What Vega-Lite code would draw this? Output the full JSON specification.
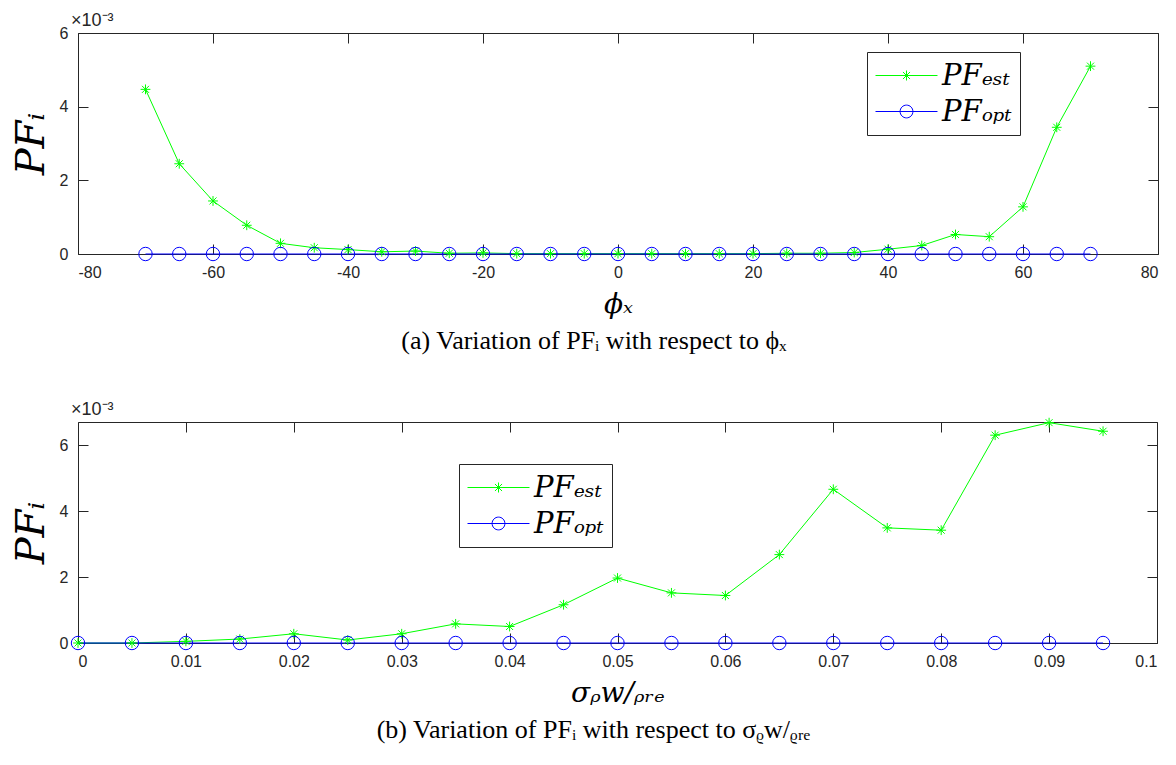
{
  "$schema": "https://vega.github.io/schema/vega-lite/v6.json",
  "background": "white",
  "padding": {"left": 10, "top": 11, "right": 6, "bottom": 5},
  "datasets": {
    "a": [
      {"phi": -70, "series": "PFₑₛₜ", "PF": 0.00447},
      {"phi": -65, "series": "PFₑₛₜ", "PF": 0.00245},
      {"phi": -60, "series": "PFₑₛₜ", "PF": 0.00144},
      {"phi": -55, "series": "PFₑₛₜ", "PF": 0.00078},
      {"phi": -50, "series": "PFₑₛₜ", "PF": 0.00029},
      {"phi": -45, "series": "PFₑₛₜ", "PF": 0.00017},
      {"phi": -40, "series": "PFₑₛₜ", "PF": 0.00012},
      {"phi": -35, "series": "PFₑₛₜ", "PF": 0.00006},
      {"phi": -30, "series": "PFₑₛₜ", "PF": 0.00008},
      {"phi": -25, "series": "PFₑₛₜ", "PF": 0.00002},
      {"phi": -20, "series": "PFₑₛₜ", "PF": 0.00003},
      {"phi": -15, "series": "PFₑₛₜ", "PF": 0.00001},
      {"phi": -10, "series": "PFₑₛₜ", "PF": 0.00001},
      {"phi": -5, "series": "PFₑₛₜ", "PF": 0.00001},
      {"phi": 0, "series": "PFₑₛₜ", "PF": 0.00001},
      {"phi": 5, "series": "PFₑₛₜ", "PF": 0.00001},
      {"phi": 10, "series": "PFₑₛₜ", "PF": 0.00001},
      {"phi": 15, "series": "PFₑₛₜ", "PF": 0.00001},
      {"phi": 20, "series": "PFₑₛₜ", "PF": 0.00001},
      {"phi": 25, "series": "PFₑₛₜ", "PF": 0.00002},
      {"phi": 30, "series": "PFₑₛₜ", "PF": 0.00002},
      {"phi": 35, "series": "PFₑₛₜ", "PF": 0.00004},
      {"phi": 40, "series": "PFₑₛₜ", "PF": 0.00013},
      {"phi": 45, "series": "PFₑₛₜ", "PF": 0.00023},
      {"phi": 50, "series": "PFₑₛₜ", "PF": 0.00053},
      {"phi": 55, "series": "PFₑₛₜ", "PF": 0.00047},
      {"phi": 60, "series": "PFₑₛₜ", "PF": 0.00128},
      {"phi": 65, "series": "PFₑₛₜ", "PF": 0.00344},
      {"phi": 70, "series": "PFₑₛₜ", "PF": 0.0051},
      {"phi": -70, "series": "PFₒₚₜ", "PF": 0},
      {"phi": -65, "series": "PFₒₚₜ", "PF": 0},
      {"phi": -60, "series": "PFₒₚₜ", "PF": 0},
      {"phi": -55, "series": "PFₒₚₜ", "PF": 0},
      {"phi": -50, "series": "PFₒₚₜ", "PF": 0},
      {"phi": -45, "series": "PFₒₚₜ", "PF": 0},
      {"phi": -40, "series": "PFₒₚₜ", "PF": 0},
      {"phi": -35, "series": "PFₒₚₜ", "PF": 0},
      {"phi": -30, "series": "PFₒₚₜ", "PF": 0},
      {"phi": -25, "series": "PFₒₚₜ", "PF": 0},
      {"phi": -20, "series": "PFₒₚₜ", "PF": 0},
      {"phi": -15, "series": "PFₒₚₜ", "PF": 0},
      {"phi": -10, "series": "PFₒₚₜ", "PF": 0},
      {"phi": -5, "series": "PFₒₚₜ", "PF": 0},
      {"phi": 0, "series": "PFₒₚₜ", "PF": 0},
      {"phi": 5, "series": "PFₒₚₜ", "PF": 0},
      {"phi": 10, "series": "PFₒₚₜ", "PF": 0},
      {"phi": 15, "series": "PFₒₚₜ", "PF": 0},
      {"phi": 20, "series": "PFₒₚₜ", "PF": 0},
      {"phi": 25, "series": "PFₒₚₜ", "PF": 0},
      {"phi": 30, "series": "PFₒₚₜ", "PF": 0},
      {"phi": 35, "series": "PFₒₚₜ", "PF": 0},
      {"phi": 40, "series": "PFₒₚₜ", "PF": 0},
      {"phi": 45, "series": "PFₒₚₜ", "PF": 0},
      {"phi": 50, "series": "PFₒₚₜ", "PF": 0},
      {"phi": 55, "series": "PFₒₚₜ", "PF": 0},
      {"phi": 60, "series": "PFₒₚₜ", "PF": 0},
      {"phi": 65, "series": "PFₒₚₜ", "PF": 0},
      {"phi": 70, "series": "PFₒₚₜ", "PF": 0}
    ],
    "b": [
      {"sigma": 0, "series": "PFₑₛₜ", "PF": 0},
      {"sigma": 0.005, "series": "PFₑₛₜ", "PF": 0},
      {"sigma": 0.01, "series": "PFₑₛₜ", "PF": 0.00005},
      {"sigma": 0.015, "series": "PFₑₛₜ", "PF": 0.00012},
      {"sigma": 0.02, "series": "PFₑₛₜ", "PF": 0.00028},
      {"sigma": 0.025, "series": "PFₑₛₜ", "PF": 0.00009},
      {"sigma": 0.03, "series": "PFₑₛₜ", "PF": 0.00028},
      {"sigma": 0.035, "series": "PFₑₛₜ", "PF": 0.00058},
      {"sigma": 0.04, "series": "PFₑₛₜ", "PF": 0.0005},
      {"sigma": 0.045, "series": "PFₑₛₜ", "PF": 0.00116},
      {"sigma": 0.05, "series": "PFₑₛₜ", "PF": 0.00197},
      {"sigma": 0.055, "series": "PFₑₛₜ", "PF": 0.00152},
      {"sigma": 0.06, "series": "PFₑₛₜ", "PF": 0.00144},
      {"sigma": 0.065, "series": "PFₑₛₜ", "PF": 0.00268},
      {"sigma": 0.07, "series": "PFₑₛₜ", "PF": 0.00466},
      {"sigma": 0.075, "series": "PFₑₛₜ", "PF": 0.00349},
      {"sigma": 0.08, "series": "PFₑₛₜ", "PF": 0.00342},
      {"sigma": 0.085, "series": "PFₑₛₜ", "PF": 0.0063},
      {"sigma": 0.09, "series": "PFₑₛₜ", "PF": 0.00668},
      {"sigma": 0.095, "series": "PFₑₛₜ", "PF": 0.00642},
      {"sigma": 0, "series": "PFₒₚₜ", "PF": 0},
      {"sigma": 0.005, "series": "PFₒₚₜ", "PF": 0},
      {"sigma": 0.01, "series": "PFₒₚₜ", "PF": 0},
      {"sigma": 0.015, "series": "PFₒₚₜ", "PF": 0},
      {"sigma": 0.02, "series": "PFₒₚₜ", "PF": 0},
      {"sigma": 0.025, "series": "PFₒₚₜ", "PF": 0},
      {"sigma": 0.03, "series": "PFₒₚₜ", "PF": 0},
      {"sigma": 0.035, "series": "PFₒₚₜ", "PF": 0},
      {"sigma": 0.04, "series": "PFₒₚₜ", "PF": 0},
      {"sigma": 0.045, "series": "PFₒₚₜ", "PF": 0},
      {"sigma": 0.05, "series": "PFₒₚₜ", "PF": 0},
      {"sigma": 0.055, "series": "PFₒₚₜ", "PF": 0},
      {"sigma": 0.06, "series": "PFₒₚₜ", "PF": 0},
      {"sigma": 0.065, "series": "PFₒₚₜ", "PF": 0},
      {"sigma": 0.07, "series": "PFₒₚₜ", "PF": 0},
      {"sigma": 0.075, "series": "PFₒₚₜ", "PF": 0},
      {"sigma": 0.08, "series": "PFₒₚₜ", "PF": 0},
      {"sigma": 0.085, "series": "PFₒₚₜ", "PF": 0},
      {"sigma": 0.09, "series": "PFₒₚₜ", "PF": 0},
      {"sigma": 0.095, "series": "PFₒₚₜ", "PF": 0}
    ],
    "unitA": [{"x": -80, "y": 0.006, "t": "×10⁻³"}],
    "unitB": [{"x": 0, "y": 0.0067, "t": "×10⁻³"}]
  },
  "config": {
    "view": {"stroke": "#262626", "strokeWidth": 1},
    "axis": {
      "grid": false, "domain": false,
      "tickColor": "#262626", "tickSize": -10, "tickWidth": 1,
      "labelPadding": 20, "labelFont": "Liberation Sans", "labelFontSize": 16, "labelColor": "#262626",
      "titleFont": "DejaVu Serif", "titleFontStyle": "italic", "titleFontWeight": "normal", "titleColor": "#000000"
    },
    "legend": {
      "title": null, "orient": "none", "strokeColor": "#262626", "fillColor": "white", "padding": 8,
      "labelFont": "DejaVu Serif", "labelFontStyle": "italic", "labelFontSize": 29, "labelColor": "#000000",
      "symbolSize": 900, "labelOffset": 36, "rowPadding": 5
    },
    "concat": {"spacing": 45}
  },
  "resolve": {"scale": {"color": "independent"}, "legend": {"color": "independent"}},
  "vconcat": [
    {
      "width": 1080, "height": 221,
      "title": {"text": "(a) Variation of PFᵢ with respect to ϕₓ", "orient": "bottom", "anchor": "middle", "offset": 10, "dx": -24, "font": "Liberation Serif", "fontSize": 26, "fontWeight": "normal", "color": "#000000"},
      "resolve": {"axis": {"x": "independent", "y": "independent"}},
      "layer": [
        {
          "data": {"name": "a"},
          "mark": {"type": "line", "strokeWidth": 1},
          "encoding": {
            "x": {"field": "phi", "type": "quantitative", "scale": {"domain": [-80, 80], "nice": false},
              "axis": {"values": [-80, -60, -40, -20, 0, 20, 40, 60, 80], "labelExpr": "datum.value < 0 ? '-' + abs(datum.value) : '' + datum.value", "title": "ϕₓ", "titleFontSize": 28, "titlePadding": 10}},
            "y": {"field": "PF", "type": "quantitative", "scale": {"domain": [0, 0.006], "nice": false},
              "axis": {"values": [0, 0.002, 0.004, 0.006], "labelExpr": "format(datum.value * 1000, '.0f')", "title": "PFᵢ", "titleFontSize": 40, "titlePadding": 8}},
            "color": {"field": "series", "type": "nominal", "scale": {"domain": ["PFₑₛₜ", "PFₒₚₜ"], "range": ["#00ff00", "#0000ff"]},
              "legend": {"legendX": 789, "legendY": 19,
                "encode": {"symbols": {"update": {
                  "shape": {"signal": "datum.value === 'PFₑₛₜ' ? 'M-1,0L3.133,0M0.733,0L1.4,0M1.067,-0.333L1.067,0.333M0.831,-0.236L1.303,0.236M0.831,0.236L1.303,-0.236' : 'M-1,0L3.133,0M0.64,0A0.427,0.427 0 1,0 1.494,0A0.427,0.427 0 1,0 0.64,0'"},
                  "fill": {"value": "transparent"}, "strokeWidth": {"value": 1}, "size": {"value": 900}}}}}}
          }
        },
        {
          "data": {"name": "a"},
          "transform": [{"filter": "datum.series === 'PFₑₛₜ'"}],
          "mark": {"type": "point", "filled": false, "strokeWidth": 1, "size": 196, "opacity": 1, "color": "#00ff00", "shape": "M-0.7,0L0.7,0M0,-0.7L0,0.7M-0.5,-0.5L0.5,0.5M-0.5,0.5L0.5,-0.5"},
          "encoding": {
            "x": {"field": "phi", "type": "quantitative", "scale": {"domain": [-80, 80], "nice": false},
              "axis": {"orient": "top", "values": [-80, -60, -40, -20, 0, 20, 40, 60, 80], "labels": false, "title": null}},
            "y": {"field": "PF", "type": "quantitative", "scale": {"domain": [0, 0.006], "nice": false},
              "axis": {"orient": "right", "values": [0, 0.002, 0.004, 0.006], "labels": false, "title": null}}
          }
        },
        {
          "data": {"name": "a"},
          "transform": [{"filter": "datum.series === 'PFₒₚₜ'"}],
          "mark": {"type": "point", "filled": false, "strokeWidth": 1, "size": 180, "opacity": 1, "color": "#0000ff", "shape": "circle"},
          "encoding": {
            "x": {"field": "phi", "type": "quantitative", "scale": {"domain": [-80, 80], "nice": false}, "axis": null},
            "y": {"field": "PF", "type": "quantitative", "scale": {"domain": [0, 0.006], "nice": false}, "axis": null}
          }
        },
        {
          "data": {"name": "unitA"},
          "mark": {"type": "text", "align": "left", "baseline": "bottom", "dx": -7, "dy": -3, "font": "Liberation Sans", "fontSize": 18, "color": "#262626"},
          "encoding": {
            "x": {"field": "x", "type": "quantitative", "scale": {"domain": [-80, 80], "nice": false}, "axis": null},
            "y": {"field": "y", "type": "quantitative", "scale": {"domain": [0, 0.006], "nice": false}, "axis": null},
            "text": {"field": "t"}
          }
        }
      ]
    },
    {
      "width": 1079, "height": 221,
      "title": {"text": "(b) Variation of PFᵢ with respect to σᵨw/ᵨᵣₑ", "orient": "bottom", "anchor": "middle", "offset": 10, "dx": -24, "font": "Liberation Serif", "fontSize": 26, "fontWeight": "normal", "color": "#000000"},
      "resolve": {"axis": {"x": "independent", "y": "independent"}},
      "layer": [
        {
          "data": {"name": "b"},
          "mark": {"type": "line", "strokeWidth": 1},
          "encoding": {
            "x": {"field": "sigma", "type": "quantitative", "scale": {"domain": [0, 0.1], "nice": false},
              "axis": {"values": [0, 0.01, 0.02, 0.03, 0.04, 0.05, 0.06, 0.07, 0.08, 0.09, 0.1], "labelExpr": "format(datum.value, '~g')", "title": "σᵨw/ᵨᵣₑ", "titleFontSize": 28, "titlePadding": 10}},
            "y": {"field": "PF", "type": "quantitative", "scale": {"domain": [0, 0.0067], "nice": false},
              "axis": {"values": [0, 0.002, 0.004, 0.006], "labelExpr": "format(datum.value * 1000, '.0f')", "title": "PFᵢ", "titleFontSize": 40, "titlePadding": 8}},
            "color": {"field": "series", "type": "nominal", "scale": {"domain": ["PFₑₛₜ", "PFₒₚₜ"], "range": ["#00ff00", "#0000ff"]},
              "legend": {"legendX": 381, "legendY": 42,
                "encode": {"symbols": {"update": {
                  "shape": {"signal": "datum.value === 'PFₑₛₜ' ? 'M-1,0L3.133,0M0.733,0L1.4,0M1.067,-0.333L1.067,0.333M0.831,-0.236L1.303,0.236M0.831,0.236L1.303,-0.236' : 'M-1,0L3.133,0M0.64,0A0.427,0.427 0 1,0 1.494,0A0.427,0.427 0 1,0 0.64,0'"},
                  "fill": {"value": "transparent"}, "strokeWidth": {"value": 1}, "size": {"value": 900}}}}}}
          }
        },
        {
          "data": {"name": "b"},
          "transform": [{"filter": "datum.series === 'PFₑₛₜ'"}],
          "mark": {"type": "point", "filled": false, "strokeWidth": 1, "size": 196, "opacity": 1, "color": "#00ff00", "shape": "M-0.7,0L0.7,0M0,-0.7L0,0.7M-0.5,-0.5L0.5,0.5M-0.5,0.5L0.5,-0.5"},
          "encoding": {
            "x": {"field": "sigma", "type": "quantitative", "scale": {"domain": [0, 0.1], "nice": false},
              "axis": {"orient": "top", "values": [0, 0.01, 0.02, 0.03, 0.04, 0.05, 0.06, 0.07, 0.08, 0.09, 0.1], "labels": false, "title": null}},
            "y": {"field": "PF", "type": "quantitative", "scale": {"domain": [0, 0.0067], "nice": false},
              "axis": {"orient": "right", "values": [0, 0.002, 0.004, 0.006], "labels": false, "title": null}}
          }
        },
        {
          "data": {"name": "b"},
          "transform": [{"filter": "datum.series === 'PFₒₚₜ'"}],
          "mark": {"type": "point", "filled": false, "strokeWidth": 1, "size": 180, "opacity": 1, "color": "#0000ff", "shape": "circle"},
          "encoding": {
            "x": {"field": "sigma", "type": "quantitative", "scale": {"domain": [0, 0.1], "nice": false}, "axis": null},
            "y": {"field": "PF", "type": "quantitative", "scale": {"domain": [0, 0.0067], "nice": false}, "axis": null}
          }
        },
        {
          "data": {"name": "unitB"},
          "mark": {"type": "text", "align": "left", "baseline": "bottom", "dx": -7, "dy": -3, "font": "Liberation Sans", "fontSize": 18, "color": "#262626"},
          "encoding": {
            "x": {"field": "x", "type": "quantitative", "scale": {"domain": [0, 0.1], "nice": false}, "axis": null},
            "y": {"field": "y", "type": "quantitative", "scale": {"domain": [0, 0.0067], "nice": false}, "axis": null},
            "text": {"field": "t"}
          }
        }
      ]
    }
  ]
}
